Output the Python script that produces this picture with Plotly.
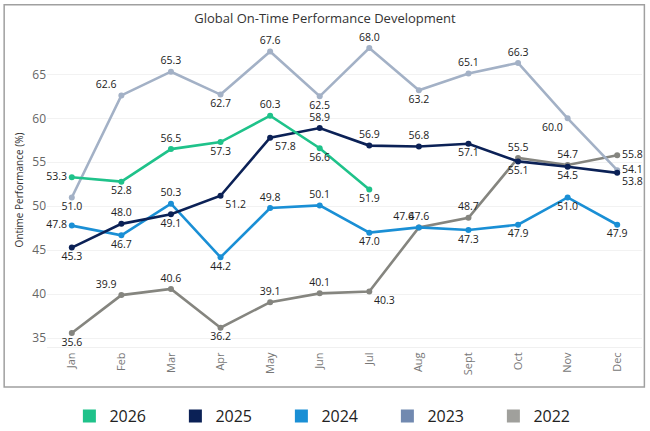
import plotly.graph_objs as go

# %%
months = ['Jan', 'Feb', 'Mar', 'Apr', 'May', 'Jun', 'Jul', 'Aug', 'Sept', 'Oct', 'Nov', 'Dec']

otp_2026 = [53.3, 52.8, 56.5, 57.3, 60.3, 56.6, 51.9]
otp_2025 = [45.3, 48.0, 49.1, 51.2, 57.8, 58.9, 56.9, 56.8, 57.1, 55.1, 54.5, 53.8]
otp_2024 = [47.8, 46.7, 50.3, 44.2, 49.8, 50.1, 47.0, 47.6, 47.3, 47.9, 51.0, 47.9]
otp_2023 = [51.0, 62.6, 65.3, 62.7, 67.6, 62.5, 68.0, 63.2, 65.1, 66.3, 60.0, 54.1]
otp_2022 = [35.6, 39.9, 40.6, 36.2, 39.1, 40.1, 40.3, 47.6, 48.7, 55.5, 54.7, 55.8]

pos_2026 = ['middle left', 'bottom center', 'top center', 'bottom center', 'top center',
            'bottom center', 'bottom center']
pos_2025 = ['bottom center', 'top center', 'bottom center', 'bottom right', 'bottom right',
            'top center', 'top center', 'top center', 'bottom center', 'bottom center',
            'bottom center', 'bottom right']
pos_2024 = ['middle left', 'bottom center', 'top center', 'bottom center', 'top center',
            'top center', 'bottom center', 'top center', 'bottom center', 'bottom center',
            'bottom center', 'bottom center']
pos_2023 = ['bottom center', 'top left', 'top center', 'bottom center', 'top center',
            'bottom center', 'top center', 'bottom center', 'top center', 'top center',
            'bottom left', 'middle right']
pos_2022 = ['bottom center', 'top left', 'top center', 'bottom center', 'top center',
            'top center', 'bottom right', 'top left', 'top center', 'top center',
            'top center', 'middle right']


# %%
def add_series(fig, name, values, positions, line_color, legend_color):
    fig.add_trace(go.Scatter(x=months[:len(values)], y=values,
                             mode='lines+markers+text',
                             text=[f'{v:.1f}' for v in values],
                             textposition=positions,
                             textfont=dict(size=10.5, color='#222222'),
                             line=dict(color=line_color, width=2.6),
                             marker=dict(color=line_color, size=6),
                             showlegend=False, cliponaxis=False))
    # square swatch for the legend
    fig.add_trace(go.Scatter(x=[None], y=[None], mode='markers', name=name,
                             marker=dict(symbol='square', size=13, color=legend_color)))


fig = go.Figure()
add_series(fig, '2022', otp_2022, pos_2022, '#85857f', '#a0a09c')
add_series(fig, '2023', otp_2023, pos_2023, '#a3b1c6', '#7189b0')
add_series(fig, '2024', otp_2024, pos_2024, '#1a8fd5', '#1a8fd5')
add_series(fig, '2025', otp_2025, pos_2025, '#0b2156', '#0b2156')
add_series(fig, '2026', otp_2026, pos_2026, '#1fc28a', '#1fc28a')

fig.update_layout(
    width=650, height=431,
    margin=dict(l=47, r=8, t=33, b=84, autoexpand=False),
    paper_bgcolor='white', plot_bgcolor='white',
    font=dict(family='Open Sans, DejaVu Sans, sans-serif', color='#333333'),
    title=dict(text='Global On-Time Performance Development', x=0.5, xanchor='center',
               y=0.958, yanchor='middle', font=dict(size=13, color='#333333'),
               automargin=False),
    legend=dict(orientation='h', x=0.483, xanchor='center', y=-0.22, yanchor='middle',
                traceorder='reversed', font=dict(size=16, color='#222222'),
                itemwidth=30, entrywidth=61),
    shapes=[dict(type='rect', xref='paper', yref='paper', x0=-0.072, x1=1.004,
                 y0=-0.127, y1=1.09, line=dict(color='#a0a0a0', width=1.5))],
)
fig.update_xaxes(type='category', categoryorder='array', categoryarray=months,
                 range=[-0.5, 11.5], tickangle=-90, showgrid=False, automargin=False,
                 tickfont=dict(size=11, color='#777777'),
                 showline=True, linecolor='#f0f0f0', ticks='')
fig.update_yaxes(range=[34, 69.7], tickvals=[35, 40, 45, 50, 55, 60, 65],
                 gridcolor='#f2f2f2', zeroline=False, automargin=False,
                 tickfont=dict(size=12, color='#666666'),
                 title=dict(text='Ontime Performance (%)', font=dict(size=10, color='#333333'),
                            standoff=6))

# page body has a default 8px margin; drop it so the figure sits at the corner
fig.write_html('out.html', config={'displayModeBar': False},
               post_script="document.body.style.margin='0';")
